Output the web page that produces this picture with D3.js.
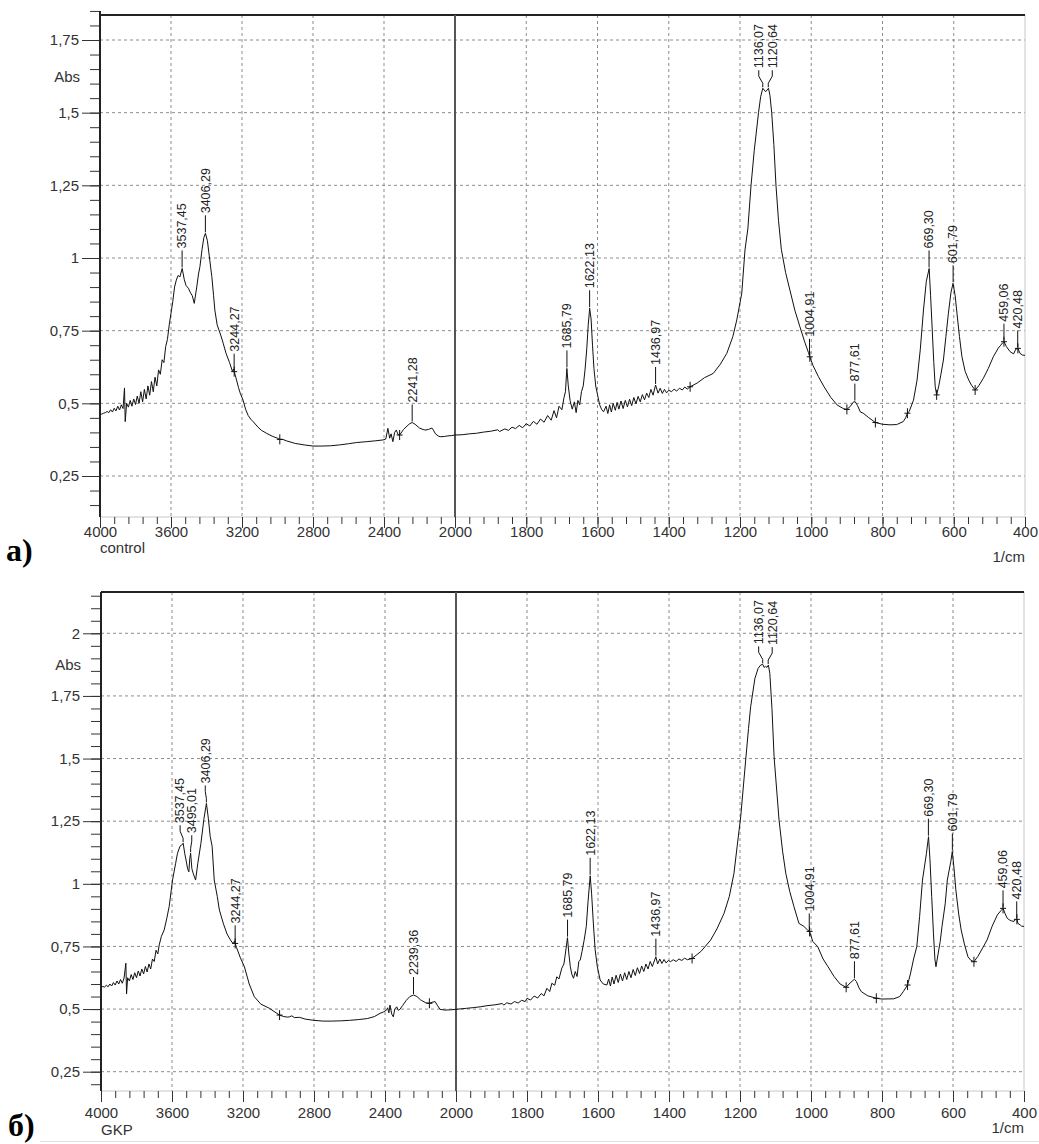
<!DOCTYPE html>
<html>
<head>
<meta charset="utf-8">
<script src="https://cdn.jsdelivr.net/npm/d3@7"></script>
<style>
body { margin: 0; background: #fff; }
svg text { font-family: "Liberation Sans", Arial, sans-serif; }
</style>
</head>
<body>
<svg id="ir" width="1039" height="1144"></svg>
<script>
// spectrum a) control : [wavenumber 1/cm, Abs]
var specA = [
 [4000,0.462],[3990,0.463],[3980,0.466],[3970,0.468],[3960,0.472],[3950,0.468],[3940,0.478],[3930,0.470],
 [3920,0.483],[3910,0.474],[3900,0.490],[3890,0.477],[3880,0.495],[3870,0.482],[3862,0.553],[3858,0.437],
 [3850,0.500],[3840,0.487],[3830,0.510],[3820,0.490],[3810,0.515],[3800,0.496],[3790,0.525],[3780,0.500],
 [3770,0.540],[3760,0.505],[3750,0.548],[3740,0.515],[3730,0.560],[3720,0.528],[3710,0.575],[3700,0.540],
 [3690,0.590],[3680,0.560],[3670,0.615],[3660,0.600],[3650,0.650],[3640,0.640],[3630,0.695],[3620,0.720],
 [3610,0.770],[3600,0.810],[3590,0.850],[3580,0.900],[3570,0.924],[3560,0.940],[3550,0.935],[3537,0.964],
 [3525,0.925],[3515,0.905],[3502,0.896],[3490,0.880],[3480,0.870],[3469,0.844],[3455,0.900],[3445,0.945],
 [3437,0.970],[3425,1.030],[3415,1.070],[3406,1.085],[3395,1.060],[3385,1.010],[3370,0.936],[3360,0.870],
 [3353,0.821],[3340,0.770],[3320,0.735],[3306,0.707],[3290,0.672],[3270,0.640],[3255,0.612],[3248,0.618],
 [3244,0.609],[3235,0.590],[3220,0.555],[3210,0.535],[3194,0.511],[3180,0.480],[3165,0.458],[3150,0.445],
 [3137,0.437],[3110,0.418],[3090,0.407],[3062,0.397],[3030,0.387],[3000,0.380],[2987,0.376],[2970,0.376],
 [2950,0.371],[2900,0.362],[2850,0.357],[2800,0.353],[2750,0.353],[2700,0.354],[2650,0.357],[2600,0.361],
 [2556,0.365],[2500,0.368],[2450,0.371],[2406,0.374],[2390,0.377],[2378,0.414],[2368,0.380],[2360,0.395],
 [2350,0.368],[2340,0.400],[2331,0.408],[2320,0.392],[2312,0.391],[2290,0.410],[2270,0.422],[2255,0.430],
 [2241,0.434],[2225,0.428],[2200,0.415],[2180,0.410],[2169,0.408],[2150,0.410],[2130,0.415],[2122,0.408],
 [2110,0.395],[2095,0.388],[2084,0.385],[2060,0.386],[2040,0.388],[2020,0.389],[2000,0.391],
 [1980,0.392],[1960,0.395],[1940,0.397],[1920,0.401],[1900,0.404],[1880,0.409],[1875,0.403],[1860,0.412],
 [1850,0.407],[1840,0.418],[1830,0.413],[1820,0.424],[1810,0.416],[1800,0.430],[1790,0.422],[1780,0.438],
 [1770,0.428],[1760,0.446],[1750,0.435],[1740,0.458],[1730,0.442],[1722,0.475],[1715,0.450],[1708,0.490],
 [1700,0.478],[1694,0.520],[1690,0.540],[1686,0.620],[1682,0.560],[1677,0.510],[1671,0.480],[1665,0.505],
 [1660,0.468],[1655,0.510],[1650,0.495],[1645,0.540],[1640,0.560],[1635,0.615],[1630,0.690],[1626,0.770],
 [1622,0.827],[1618,0.790],[1614,0.700],[1610,0.620],[1605,0.560],[1600,0.530],[1594,0.495],[1588,0.478],
 [1583,0.471],[1576,0.490],[1571,0.465],[1566,0.495],[1561,0.470],[1556,0.500],[1550,0.476],[1545,0.503],
 [1540,0.480],[1534,0.508],[1528,0.482],[1522,0.510],[1516,0.488],[1510,0.514],[1504,0.492],[1498,0.520],
 [1492,0.498],[1486,0.524],[1480,0.505],[1474,0.530],[1468,0.512],[1462,0.535],[1456,0.520],[1450,0.548],
 [1444,0.528],[1437,0.563],[1430,0.535],[1424,0.552],[1418,0.534],[1412,0.548],[1406,0.536],[1400,0.545],
 [1392,0.540],[1385,0.549],[1378,0.542],[1370,0.552],[1362,0.546],[1355,0.556],[1348,0.549],[1340,0.557],
 [1320,0.570],[1300,0.588],[1275,0.603],[1255,0.635],[1237,0.672],[1220,0.730],[1209,0.787],[1195,0.879],
 [1186,1.028],[1178,1.100],[1169,1.250],[1160,1.370],[1148,1.500],[1142,1.555],[1136,1.584],[1132,1.578],
 [1128,1.572],[1124,1.578],[1120,1.584],[1116,1.560],[1111,1.500],[1105,1.390],[1099,1.250],[1092,1.130],
 [1084,1.030],[1072,0.950],[1060,0.890],[1046,0.820],[1032,0.764],[1018,0.710],[1008,0.675],[1004,0.660],
 [995,0.630],[980,0.592],[964,0.557],[945,0.520],[927,0.494],[910,0.482],[900,0.479],[890,0.490],
 [882,0.504],[877,0.506],[870,0.492],[862,0.470],[854,0.466],[840,0.452],[820,0.434],[800,0.428],
 [779,0.426],[760,0.427],[742,0.437],[735,0.450],[730,0.466],[725,0.472],[713,0.511],[703,0.580],
 [694,0.684],[685,0.821],[677,0.920],[669,0.964],[665,0.870],[660,0.742],[656,0.640],[652,0.557],
 [648,0.529],[642,0.560],[636,0.600],[629,0.649],[622,0.730],[615,0.810],[608,0.880],[602,0.913],
 [596,0.870],[591,0.810],[584,0.730],[577,0.660],[568,0.610],[558,0.580],[550,0.562],[540,0.546],
 [530,0.560],[517,0.586],[503,0.620],[489,0.660],[475,0.690],[468,0.700],[463,0.708],[459,0.712],
 [452,0.695],[442,0.678],[432,0.670],[426,0.686],[420,0.689],[414,0.672],[407,0.666],[400,0.665]
];
var peaksA = [3537.45, 3406.29, 3244.27, 2241.28, 1685.79, 1622.13, 1436.97, 1136.07, 1120.64,
              1004.91, 877.61, 669.30, 601.79, 459.06, 420.48];
var marksA = [3244, 2987, 2312, 1340, 1004, 900, 820, 730, 648, 540, 459, 420];

// spectrum b) GKP
var specB = [
 [4000,0.587],[3990,0.590],[3980,0.588],[3970,0.595],[3960,0.589],[3950,0.600],[3940,0.592],[3930,0.606],
 [3920,0.596],[3910,0.612],[3900,0.600],[3890,0.618],[3880,0.603],[3870,0.624],[3860,0.683],[3856,0.560],
 [3850,0.625],[3840,0.612],[3830,0.638],[3820,0.618],[3810,0.645],[3800,0.625],[3790,0.652],[3780,0.632],
 [3770,0.660],[3760,0.640],[3750,0.670],[3740,0.648],[3730,0.680],[3720,0.660],[3710,0.700],[3700,0.690],
 [3690,0.735],[3680,0.720],[3672,0.756],[3660,0.790],[3644,0.816],[3630,0.860],[3616,0.909],[3597,1.015],
 [3580,1.080],[3569,1.122],[3555,1.150],[3545,1.155],[3537,1.162],[3528,1.120],[3521,1.095],[3512,1.060],
 [3505,1.048],[3500,1.100],[3495,1.122],[3488,1.060],[3480,1.040],[3467,1.015],[3455,1.080],[3437,1.162],
 [3420,1.260],[3406,1.321],[3395,1.260],[3385,1.190],[3374,1.150],[3362,1.015],[3345,0.950],[3333,0.895],
 [3310,0.840],[3290,0.800],[3270,0.775],[3255,0.760],[3248,0.772],[3244,0.762],[3236,0.745],[3215,0.705],
 [3192,0.669],[3165,0.600],[3136,0.549],[3100,0.520],[3051,0.503],[3020,0.488],[2994,0.476],[2970,0.470],
 [2950,0.468],[2938,0.469],[2925,0.473],[2910,0.466],[2881,0.467],[2850,0.460],[2800,0.455],[2750,0.452],
 [2700,0.452],[2650,0.453],[2600,0.455],[2550,0.458],[2500,0.462],[2460,0.470],[2428,0.483],[2410,0.488],
 [2391,0.496],[2385,0.505],[2378,0.485],[2372,0.516],[2362,0.480],[2353,0.469],[2345,0.500],[2334,0.509],
 [2325,0.495],[2316,0.499],[2300,0.515],[2280,0.535],[2260,0.550],[2239,0.556],[2220,0.550],[2200,0.537],
 [2193,0.534],[2170,0.525],[2150,0.523],[2135,0.527],[2118,0.530],[2105,0.515],[2090,0.499],[2062,0.496],
 [2030,0.497],[2000,0.499],
 [1970,0.503],[1950,0.506],[1932,0.509],[1910,0.514],[1890,0.517],[1870,0.522],[1865,0.516],[1857,0.525],
 [1845,0.520],[1835,0.530],[1825,0.524],[1815,0.535],[1805,0.530],[1800,0.543],[1790,0.536],[1780,0.552],
 [1770,0.544],[1760,0.562],[1752,0.553],[1744,0.583],[1736,0.570],[1730,0.603],[1722,0.595],[1716,0.629],
 [1710,0.620],[1702,0.663],[1696,0.680],[1692,0.720],[1686,0.785],[1682,0.720],[1678,0.670],[1674,0.640],
 [1669,0.623],[1664,0.650],[1659,0.630],[1654,0.690],[1650,0.696],[1645,0.730],[1639,0.775],[1633,0.830],
 [1628,0.930],[1622,1.032],[1618,0.960],[1613,0.840],[1608,0.736],[1602,0.670],[1594,0.616],[1585,0.600],
 [1575,0.596],[1570,0.620],[1565,0.592],[1560,0.628],[1555,0.600],[1549,0.635],[1543,0.606],[1537,0.640],
 [1531,0.612],[1525,0.645],[1519,0.618],[1513,0.650],[1507,0.625],[1501,0.658],[1495,0.634],[1489,0.665],
 [1483,0.642],[1477,0.672],[1471,0.650],[1465,0.680],[1459,0.660],[1453,0.690],[1447,0.670],[1437,0.709],
 [1432,0.680],[1426,0.700],[1420,0.682],[1414,0.698],[1408,0.684],[1402,0.694],[1396,0.689],[1388,0.697],
 [1380,0.690],[1372,0.700],[1364,0.694],[1356,0.703],[1348,0.697],[1335,0.702],[1310,0.730],[1283,0.775],
 [1265,0.820],[1245,0.882],[1230,0.950],[1217,1.042],[1208,1.150],[1198,1.268],[1184,1.494],[1176,1.620],
 [1170,1.707],[1158,1.820],[1149,1.860],[1142,1.873],[1136,1.876],[1132,1.864],[1128,1.868],[1124,1.864],
 [1120,1.873],[1116,1.840],[1110,1.700],[1104,1.507],[1090,1.254],[1080,1.130],[1071,1.042],[1060,0.970],
 [1048,0.909],[1034,0.842],[1020,0.830],[1010,0.816],[1004,0.810],[995,0.770],[981,0.749],[966,0.700],
 [952,0.669],[935,0.630],[918,0.600],[901,0.587],[893,0.600],[878,0.619],[872,0.610],[865,0.585],
 [858,0.569],[840,0.553],[816,0.543],[800,0.540],[767,0.541],[750,0.550],[740,0.570],[728,0.596],
 [720,0.640],[711,0.700],[702,0.749],[694,0.870],[686,1.015],[675,1.120],[669,1.188],[665,1.100],
 [660,0.949],[655,0.800],[651,0.700],[648,0.669],[642,0.720],[636,0.770],[631,0.829],[622,0.920],
 [616,1.015],[606,1.090],[602,1.129],[597,1.060],[592,0.976],[584,0.880],[577,0.816],[568,0.760],
 [558,0.709],[550,0.695],[541,0.689],[530,0.710],[518,0.740],[504,0.776],[490,0.830],[475,0.876],
 [465,0.893],[459,0.902],[453,0.880],[447,0.862],[441,0.856],[435,0.852],[428,0.850],[424,0.858],
 [420,0.858],[417,0.842],[410,0.835],[407,0.831],[400,0.830]
];
var peaksB = [3537.45, 3495.01, 3406.29, 3244.27, 2239.36, 1685.79, 1622.13, 1436.97, 1136.07, 1120.64,
              1004.91, 877.61, 669.30, 601.79, 459.06, 420.48];
var marksB = [3244, 2994, 2150, 1335, 1004, 901, 816, 728, 541, 459, 420];

var xTickValues = [4000, 3600, 3200, 2800, 2400, 2000, 1800, 1600, 1400, 1200, 1000, 800, 600, 400];
var yTicksA = [0.25, 0.5, 0.75, 1, 1.25, 1.5, 1.75];
var yTicksB = [0.25, 0.5, 0.75, 1, 1.25, 1.5, 1.75, 2];
var sampleNames = ["control", "GKP"];
var panelTags = ["a)", "б)"];

var svg = d3.select('svg#ir');

function fmtComma(v) { return String(v).replace('.', ','); }

function DrawPanel(p) {
    var x = d3.scaleLinear().domain([4000, 2000, 400]).range([p.left, p.split, p.right]);
    var y = d3.scaleLinear().domain([0.25, p.yTicks[p.yTicks.length - 1]]).range([p.y0, p.y1]);
    var g = svg.append('g');

    // dashed grid
    g.selectAll('line.gx')
        .data(xTickValues.filter(function (d) { return d !== 4000 && d !== 2000 && d !== 400; }))
        .enter().append('line')
        .attr('x1', function (d) { return x(d); }).attr('x2', function (d) { return x(d); })
        .attr('y1', p.top).attr('y2', p.bottom)
        .attr('stroke', '#8c8c8c').attr('stroke-dasharray', '3,3');
    g.selectAll('line.gy').data(p.yTicks).enter().append('line')
        .attr('x1', p.left).attr('x2', p.right)
        .attr('y1', function (d) { return y(d); }).attr('y2', function (d) { return y(d); })
        .attr('stroke', '#8c8c8c').attr('stroke-dasharray', '3,3');

    // frame
    g.append('line').attr('x1', p.left).attr('x2', p.right).attr('y1', p.bottom).attr('y2', p.bottom)
        .attr('stroke', '#c8c8c8');
    g.append('line').attr('x1', p.right).attr('x2', p.right).attr('y1', p.top).attr('y2', p.bottom)
        .attr('stroke', '#c8c8c8');
    g.append('line').attr('x1', p.left).attr('x2', p.right).attr('y1', p.top).attr('y2', p.top)
        .attr('stroke', '#222').attr('stroke-width', 2);
    g.append('line').attr('x1', x(2000)).attr('x2', x(2000)).attr('y1', p.top).attr('y2', p.bottom)
        .attr('stroke', '#555').attr('stroke-width', 2);

    // y axis
    var minorY = d3.range(p.yMinor[0], p.yMinor[1] + 1).map(function (i) { return i * 0.05; });
    var yMinorAxis = d3.axisLeft(y).tickValues(minorY).tickSize(10).tickFormat('');
    var yAxis = d3.axisLeft(y).tickValues(p.yTicks).tickSize(18).tickPadding(3).tickFormat(fmtComma);
    var ga = g.append('g').attr('transform', 'translate(' + p.left + ',0)');
    ga.append('g').call(yMinorAxis);
    ga.append('g').call(yAxis);
    ga.selectAll('.domain').remove();
    ga.selectAll('line').attr('stroke', '#333');
    g.append('line').attr('x1', p.left).attr('x2', p.left)
        .attr('y1', Math.min(p.top, y(minorY[minorY.length - 1]))).attr('y2', p.bottom)
        .attr('stroke', '#222').attr('stroke-width', 2);

    // x axis
    var minorX = d3.range(0, 26).map(function (i) { return 4000 - i * 80; })
        .concat(d3.range(1, 41).map(function (i) { return 2000 - i * 40; }));
    var xMinorAxis = d3.axisBottom(x).tickValues(minorX).tickSize(7).tickFormat('');
    var xAxis = d3.axisBottom(x).tickValues(xTickValues).tickSize(11).tickPadding(p.xPad).tickFormat(String);
    var gx = g.append('g').attr('transform', 'translate(0,' + p.bottom + ')');
    gx.append('g').call(xMinorAxis);
    gx.append('g').call(xAxis);
    gx.selectAll('.domain').remove();
    gx.selectAll('line').attr('stroke', '#333');

    svg.selectAll('.tick text').attr('font-size', 15).attr('fill', '#333');

    // axis captions
    g.append('text').attr('x', p.left - 20).attr('y', p.absY).attr('text-anchor', 'end')
        .attr('font-size', 15).attr('fill', '#333').text('Abs');
    g.append('text').attr('x', p.right).attr('y', p.unitY).attr('text-anchor', 'end')
        .attr('font-size', 15).attr('fill', '#333').text('1/cm');
    g.append('text').attr('x', p.left).attr('y', p.nameY)
        .attr('font-size', 15).attr('fill', '#333').text(p.name);
    g.append('text').attr('x', p.tagX).attr('y', p.tagY)
        .attr('font-size', 32).attr('font-weight', 'bold')
        .style('font-family', '"Liberation Serif", "Times New Roman", serif')
        .text(p.tag);

    // spectrum
    var line = d3.line()
        .x(function (d) { return x(d[0]); })
        .y(function (d) { return y(d[1]); });
    g.append('path').datum(p.spec).attr('d', line)
        .attr('fill', 'none').attr('stroke', '#111').attr('stroke-width', 1);

    function absAt(w) {
        return d3.least(p.spec, function (d) { return Math.abs(d[0] - w); })[1];
    }

    // baseline markers
    g.selectAll('path.mark').data(p.marks).enter().append('path')
        .attr('d', function (d) {
            var mx = x(d), my = y(absAt(d));
            return 'M' + (mx - 3) + ',' + my + 'H' + (mx + 3) + 'M' + mx + ',' + (my - 5) + 'V' + (my + 5);
        })
        .attr('stroke', '#111').attr('fill', 'none');

    // peak labels
    var labels = p.peaks.map(function (w) {
        return { w: w, px: x(w), py: y(absAt(w)), lx: x(w) };
    }).sort(function (a, b) { return a.px - b.px; });
    for (var i = 1; i < labels.length; i++) {
        if (labels[i].lx - labels[i - 1].lx < 13.5) {
            var mid = (labels[i].px + labels[i - 1].px) / 2;
            labels[i - 1].lx = mid - 6.75;
            labels[i].lx = mid + 6.75;
        }
    }
    g.selectAll('path.lead').data(labels).enter().append('path')
        .attr('d', function (d) {
            if (Math.abs(d.lx - d.px) < 0.5) {
                return 'M' + d.px + ',' + (d.py - 1) + 'V' + (d.py - 18);
            }
            return 'M' + d.px + ',' + (d.py - 1) + 'V' + (d.py - 5) +
                'L' + d.lx + ',' + (d.py - 12) + 'V' + (d.py - 18);
        })
        .attr('stroke', '#111').attr('fill', 'none');
    g.selectAll('text.peak').data(labels).enter().append('text')
        .attr('transform', function (d) { return 'translate(' + d.lx + ',' + (d.py - 20) + ') rotate(-90)'; })
        .attr('dy', '0.35em')
        .attr('font-size', 12.5).attr('fill', '#222')
        .text(function (d) { return d3.format('.2f')(d.w).replace('.', ','); });
}

DrawPanel({
    spec: specA, peaks: peaksA, marks: marksA, yTicks: yTicksA, yMinor: [3, 37],
    name: sampleNames[0], tag: panelTags[0],
    left: 100, split: 455, right: 1025, top: 15, bottom: 517, y0: 476, y1: 40,
    xPad: -2, absY: 82, unitY: 562, nameY: 553, tagX: 6, tagY: 561
});
DrawPanel({
    spec: specB, peaks: peaksB, marks: marksB, yTicks: yTicksB, yMinor: [4, 43],
    name: sampleNames[1], tag: panelTags[1],
    left: 101, split: 456, right: 1024, top: 592, bottom: 1091, y0: 1071.7, y1: 633.3,
    xPad: 5, absY: 670, unitY: 1133, nameY: 1135, tagX: 8, tagY: 1136
});

svg.append('line').attr('x1', 40).attr('x2', 1039).attr('y1', 1141.5).attr('y2', 1141.5)
    .attr('stroke', '#e2e2e2');
</script>
</body>
</html>
